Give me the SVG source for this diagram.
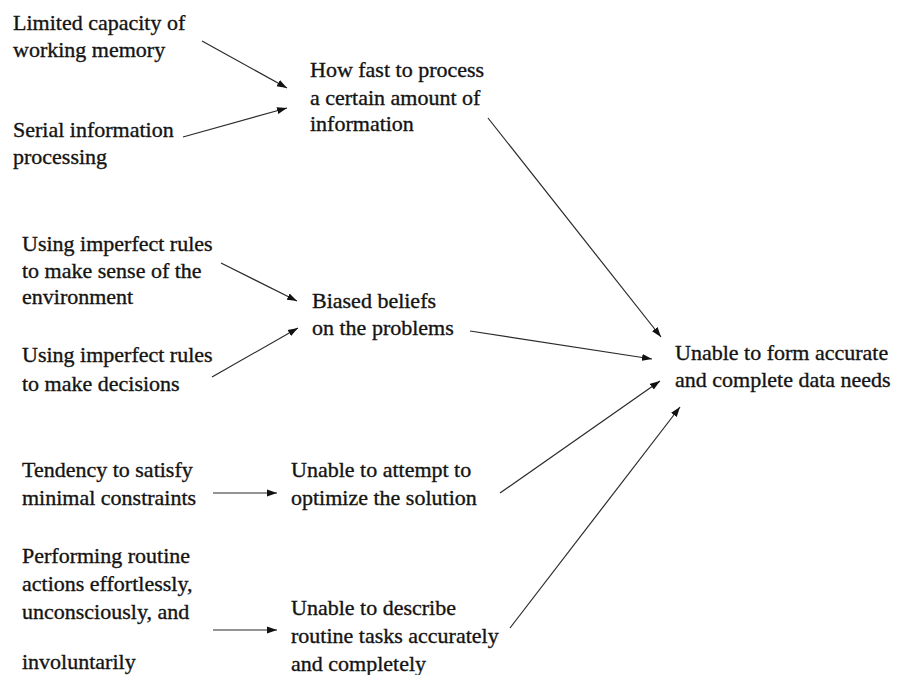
<svg xmlns="http://www.w3.org/2000/svg" width="898" height="675" viewBox="0 0 898 675">
  <style>
    .lbl { font-family: "Liberation Serif", "Times New Roman", serif; font-size: 22px; fill: #141414; stroke: #141414; stroke-width: 0.35; }
    .edge { stroke: #2a2a2a; stroke-width: 1.2; fill: none; marker-end: url(#head); }
  </style>
  <defs>
    <marker id="head" markerUnits="userSpaceOnUse" markerWidth="11" markerHeight="8" refX="10" refY="4" orient="auto">
      <path d="M0,0.5 L10,4 L0,7.5 z" fill="#111"/>
    </marker>
  </defs>
  <rect width="898" height="675" fill="#ffffff"/>

  <g id="connectors">
    <line class="edge" x1="202" y1="41" x2="287" y2="88"/>
    <line class="edge" x1="183" y1="137" x2="287" y2="108"/>
    <line class="edge" x1="488" y1="118" x2="661" y2="337"/>
    <line class="edge" x1="221" y1="263" x2="297" y2="301"/>
    <line class="edge" x1="212" y1="377" x2="298" y2="328"/>
    <line class="edge" x1="470" y1="331" x2="652" y2="359"/>
    <line class="edge" x1="500" y1="493" x2="660" y2="381"/>
    <line class="edge" x1="510" y1="628" x2="680" y2="407"/>
    <line class="edge" x1="213" y1="493" x2="277" y2="493"/>
    <line class="edge" x1="213" y1="630" x2="277" y2="630"/>
  </g>

  <g id="limited-capacity">
    <text class="lbl" x="13" y="30">Limited capacity of</text>
    <text class="lbl" x="13" y="57">working memory</text>
  </g>
  <g id="serial-processing">
    <text class="lbl" x="13" y="137">Serial information</text>
    <text class="lbl" x="13" y="164">processing</text>
  </g>
  <g id="processing-speed">
    <text class="lbl" x="310" y="77">How fast to process</text>
    <text class="lbl" x="310" y="105">a certain amount of</text>
    <text class="lbl" x="310" y="131">information</text>
  </g>
  <g id="rules-sense">
    <text class="lbl" x="22" y="251">Using imperfect rules</text>
    <text class="lbl" x="22" y="278">to make sense of the</text>
    <text class="lbl" x="22" y="304">environment</text>
  </g>
  <g id="rules-decisions">
    <text class="lbl" x="22" y="362">Using imperfect rules</text>
    <text class="lbl" x="22" y="391">to make decisions</text>
  </g>
  <g id="biased-beliefs">
    <text class="lbl" x="312" y="308">Biased beliefs</text>
    <text class="lbl" x="312" y="335">on the problems</text>
  </g>
  <g id="data-needs">
    <text class="lbl" x="675" y="360">Unable to form accurate</text>
    <text class="lbl" x="675" y="387">and complete data needs</text>
  </g>
  <g id="satisficing">
    <text class="lbl" x="22" y="477">Tendency to satisfy</text>
    <text class="lbl" x="22" y="505">minimal constraints</text>
  </g>
  <g id="no-optimization">
    <text class="lbl" x="291" y="477">Unable to attempt to</text>
    <text class="lbl" x="291" y="505">optimize the solution</text>
  </g>
  <g id="routine-actions">
    <text class="lbl" x="22" y="563">Performing routine</text>
    <text class="lbl" x="22" y="591">actions effortlessly,</text>
    <text class="lbl" x="22" y="619">unconsciously, and</text>
    <text class="lbl" x="22" y="669">involuntarily</text>
  </g>
  <g id="routine-description">
    <text class="lbl" x="291" y="615">Unable to describe</text>
    <text class="lbl" x="291" y="643">routine tasks accurately</text>
    <text class="lbl" x="291" y="671">and completely</text>
  </g>
</svg>
